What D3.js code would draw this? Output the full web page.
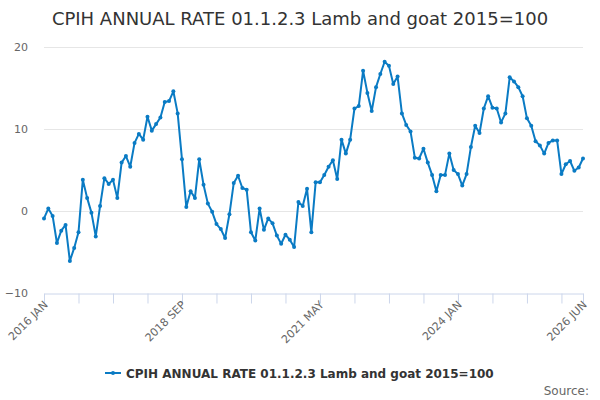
<!DOCTYPE html>
<html>
<head>
<meta charset="utf-8">
<script src="https://cdn.jsdelivr.net/npm/d3@7"></script>
<style>
  body { margin: 0; background: #fff; }
  svg { font-family: "DejaVu Sans", sans-serif; }
</style>
</head>
<body>
<div id="chart"></div>
<script>
// monthly values, 2016 JAN .. 2026 JUN
var startYear = 2016;
var monthNames = ["JAN", "FEB", "MAR", "APR", "MAY", "JUN", "JUL", "AUG", "SEP", "OCT", "NOV", "DEC"];
var values = [
    -0.9, 0.3, -0.6, -3.9, -2.4, -1.7, -6.1, -4.5, -2.6, 3.8, 1.6, -0.2,
    -3.1, 0.6, 4.0, 3.3, 3.8, 1.6, 5.9, 6.7, 5.4, 8.3, 9.4, 8.7,
    11.5, 9.8, 10.6, 11.4, 13.3, 13.4, 14.6, 11.9, 6.3, 0.5, 2.4, 1.6,
    6.3, 3.2, 0.9, -0.1, -1.6, -2.2, -3.3, -0.4, 3.4, 4.3, 2.8, 2.6,
    -2.6, -3.6, 0.3, -2.3, -0.9, -1.5, -3.0, -4.0, -2.9, -3.5, -4.4, 1.1,
    0.6, 2.7, -2.6, 3.5, 3.5, 4.4, 5.4, 6.2, 3.9, 8.7, 7.0, 8.7,
    12.5, 12.8, 17.1, 14.4, 12.2, 15.1, 16.7, 18.2, 17.7, 15.5, 16.4, 11.9,
    10.5, 9.7, 6.5, 6.4, 7.6, 5.9, 4.4, 2.4, 4.4, 4.4, 7.0, 5.0,
    4.5, 3.1, 4.5, 7.8, 10.4, 9.5, 12.5, 14.0, 12.6, 12.5, 10.8, 11.9,
    16.3, 15.8, 15.1, 14.0, 11.3, 10.4, 8.5, 8.0, 7.0, 8.3, 8.6, 8.6,
    4.5, 5.7, 6.1, 4.9, 5.3, 6.4
];
var yTicks = [-10, 0, 10, 20];
var labelEvery = 32;   // months between x labels
var tickEvery = 8;     // months between x ticks
var title = "CPIH ANNUAL RATE 01.1.2.3 Lamb and goat 2015=100";

var data = values.map(function(v, i) {
    return { month: i, label: (startYear + Math.floor(i / 12)) + " " + monthNames[i % 12], value: v };
});
var last = data.length - 1;

var width = 600, height = 400;
var margin = { top: 47, right: 17, bottom: 107, left: 44 };

var svg = d3.select("#chart").append("svg")
    .attr("width", width)
    .attr("height", height);

var x = d3.scaleLinear()
    .domain([0, last])
    .range([margin.left, width - margin.right]);

var y = d3.scaleLinear()
    .domain([-10, 20])
    .range([height - margin.bottom, margin.top]);

var lineColor = "#0a7bc4";

// title
svg.append("text")
    .attr("x", width / 2)
    .attr("y", 25)
    .attr("text-anchor", "middle")
    .attr("fill", "#333")
    .attr("font-size", 18)
    .text(title);

// gridlines
svg.append("g")
    .selectAll("line")
    .data(yTicks.filter(function(d) { return d > -10; }))
    .enter().append("line")
    .attr("x1", margin.left)
    .attr("x2", width - margin.right)
    .attr("y1", function(d) { return y(d) + 0.5; })
    .attr("y2", function(d) { return y(d) + 0.5; })
    .attr("stroke", "#e6e6e6");

// y axis labels
var yAxis = d3.axisLeft(y).tickValues(yTicks).tickSize(0).tickPadding(16);
var gy = svg.append("g")
    .attr("transform", "translate(" + margin.left + ",0)")
    .call(yAxis);
gy.select(".domain").remove();
gy.selectAll("text")
    .attr("fill", "#666")
    .attr("font-size", 11)
    .attr("font-family", "DejaVu Sans, sans-serif");

// x axis
var tickMonths = d3.range(0, last, tickEvery).concat([last]);
var labelMonths = d3.range(0, last, labelEvery).concat([last]);
var xAxis = d3.axisBottom(x)
    .tickValues(tickMonths)
    .tickSize(10)
    .tickFormat(function(d) { return labelMonths.indexOf(d) >= 0 ? data[d].label : ""; });

var gx = svg.append("g")
    .attr("transform", "translate(0," + (y(-10) + 0.5) + ")")
    .call(xAxis);
gx.select(".domain").attr("stroke", "#ccd6eb");
gx.selectAll(".tick line").attr("stroke", "#ccd6eb");
gx.selectAll("text")
    .attr("fill", "#666")
    .attr("font-size", 11)
    .attr("font-family", "DejaVu Sans, sans-serif")
    .attr("text-anchor", "end")
    .attr("dy", null)
    .attr("y", 0)
    .attr("transform", "translate(4,12) rotate(-45)");

// series line
var line = d3.line()
    .x(function(d) { return x(d.month); })
    .y(function(d) { return y(d.value); });

svg.append("path")
    .datum(data)
    .attr("fill", "none")
    .attr("stroke", lineColor)
    .attr("stroke-width", 2)
    .attr("stroke-linejoin", "round")
    .attr("d", line);

svg.append("g")
    .selectAll("circle")
    .data(data)
    .enter().append("circle")
    .attr("cx", function(d) { return x(d.month); })
    .attr("cy", function(d) { return y(d.value); })
    .attr("r", 2)
    .attr("fill", lineColor);

// legend
var legend = svg.append("g").attr("transform", "translate(105,373)");
legend.append("line")
    .attr("x1", 0).attr("x2", 16)
    .attr("y1", 0).attr("y2", 0)
    .attr("stroke", lineColor)
    .attr("stroke-width", 2);
legend.append("circle")
    .attr("cx", 8).attr("cy", 0).attr("r", 2)
    .attr("fill", lineColor);
legend.append("text")
    .attr("x", 21)
    .attr("y", 4.5)
    .attr("fill", "#333")
    .attr("font-size", 12)
    .attr("font-weight", "bold")
    .text(title);

// credits
svg.append("text")
    .attr("x", 589)
    .attr("y", 395)
    .attr("text-anchor", "end")
    .attr("fill", "#666")
    .attr("font-size", 12)
    .text("Source:");
</script>
</body>
</html>
